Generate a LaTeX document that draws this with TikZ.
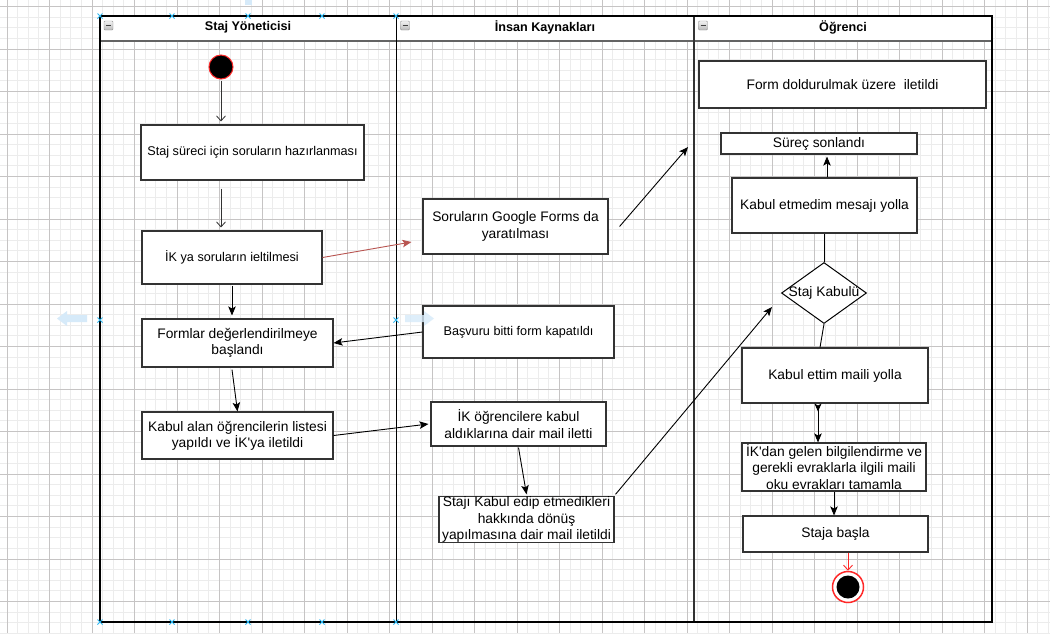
\documentclass[tikz,border=0pt]{standalone}
\usepackage{fontspec}
\setmainfont{Liberation Sans}[Ligatures=TeXOff]
\usetikzlibrary{arrows.meta,calc,shapes.geometric}
\definecolor{minorg}{RGB}{236,236,236}
\definecolor{majorg}{RGB}{198,196,196}
\definecolor{boxc}{RGB}{51,51,51}
\definecolor{redl}{RGB}{184,84,80}
\definecolor{endred}{RGB}{255,40,40}
\definecolor{hintc}{RGB}{214,234,249}
\definecolor{handlec}{RGB}{41,182,242}
\definecolor{headline}{RGB}{100,100,100}
\newcommand{\fs}{\fontsize{13.8}{16.2}\selectfont}
\newcommand{\fss}{\fontsize{12.65}{15}\selectfont}
\begin{document}
\begin{tikzpicture}[x=1pt,y=-1pt,
  box/.style={draw=boxc, line width=1.1pt, fill=white, align=center, font=\fs, inner sep=0pt},
  smallbox/.style={box, font=\fss},
  lanetitle/.style={font=\fontsize{12.6}{15}\selectfont\bfseries, inner sep=0pt},
  minusicon/.style={draw=gray!85, top color=gray!10, bottom color=gray!55, minimum size=9pt, inner sep=0pt, rounded corners=1pt,
    path picture={\draw[black!75, line width=1pt] ($(path picture bounding box.west)+(2,0)$) -- ($(path picture bounding box.east)+(-2,0)$);}},
  openarr/.style={draw=black!80, line width=0.8pt, -{Straight Barb[length=5pt,width=9pt]}},
  arr/.style={draw=black, line width=0.9pt, -{Stealth[length=9pt,width=7.5pt,inset=2pt]}},
  redarr/.style={draw=redl, line width=0.9pt, -{Stealth[length=9pt,width=7.5pt,inset=2pt]}},
  redopen/.style={draw=endred, line width=0.9pt, -{Straight Barb[length=5pt,width=9pt]}},
  plainline/.style={draw=black, line width=0.9pt},
  handle/.style={draw=handlec, line width=1pt},
  hint/.style={fill=hintc}
]
\useasboundingbox (0,0) rectangle (1050,633);
\fill[white] (0,0) rectangle (1050,633);
% grid
\begin{scope}
\clip (0,0) rectangle (1050,633);
\foreach \k in {-1,...,98} \draw[minorg, line width=1pt] ({7+\k*10.625},0) -- ({7+\k*10.625},633);
\foreach \k in {-1,...,59} \draw[minorg, line width=1pt] (0,{6.5+\k*10.625}) -- (1050,{6.5+\k*10.625});
\foreach \k in {0,...,24} \draw[majorg, line width=1pt] ({7+\k*42.5},0) -- ({7+\k*42.5},633);
\foreach \k in {0,...,14} \draw[majorg, line width=1pt] (0,{6.5+\k*42.5}) -- (1050,{6.5+\k*42.5});
\end{scope}

% pool and lanes
\fill[white] (100,16) rectangle (992,40.5);
\draw[headline, line width=2pt] (100,40.5) -- (992,40.5);
\draw[black, line width=1pt] (396,16) -- (396,622);
\draw[black!80, line width=2pt] (694,16) -- (694,622);
\draw[black, line width=1.2pt] (100,16) rectangle (992,622);
\node[lanetitle] (t1) at (248,27.5) {Staj Yöneticisi};
\node[lanetitle] (t2) at (545,27.5) {İnsan Kaynakları};
\node[lanetitle] (t3) at (843,27.5) {Öğrenci};
\node[minusicon] (m1) at (108.5,25.5) {};
\node[minusicon] (m2) at (405,25.5) {};
\node[minusicon] (m3) at (703,25.5) {};

% nodes
\node[circle, fill=black, draw=endred, line width=1pt, minimum size=24pt, inner sep=0pt] (start) at (221,67) {};
\node[smallbox, minimum width=223pt, minimum height=55pt] (b1) at (252.5,152.5) {Staj süreci için soruların hazırlanması};
\node[smallbox, minimum width=180pt, minimum height=53pt] (b2) at (232,257.5) {İK ya soruların ieltilmesi};
\node[box, minimum width=185pt, minimum height=55pt] (b3) at (515.5,226.5) {Soruların Google Forms da\\yaratılması};
\node[box, minimum width=191pt, minimum height=48pt] (b4) at (237.5,343) {Formlar değerlendirilmeye\\başlandı};
\node[smallbox, minimum width=191pt, minimum height=52pt] (b5) at (518.5,332) {Başvuru bitti form kapatıldı};
\node[box, minimum width=191pt, minimum height=47pt] (b6) at (237.5,435.5) {Kabul alan öğrencilerin listesi\\yapıldı ve İK'ya iletildi};
\node[box, minimum width=175pt, minimum height=44pt] (b7) at (518.5,424) {İK öğrencilere kabul\\aldıklarına dair mail iletti};
\node[box, minimum width=175pt, minimum height=45pt] (b8) at (526.5,519.5) {Stajı Kabul edip etmedikleri\\hakkında dönüş\\yapılmasına dair mail iletildi};
\node[box, minimum width=287pt, minimum height=47pt] (b9) at (842.5,84.5) {Form doldurulmak üzere\ \ iletildi};
\node[box, minimum width=196pt, minimum height=21pt] (b10) at (819,143.5) {Süreç sonlandı};
\node[box, minimum width=185pt, minimum height=55pt] (b11) at (824.5,205.5) {Kabul etmedim mesajı yolla};
\node[diamond, draw=black, line width=1pt, fill=white, aspect=1.39, minimum width=85pt, minimum height=61pt, inner sep=0pt, font=\fs] (dia) at (824,293) {};
\node[font=\fs, inner sep=0pt] (dial) at (dia) {Staj Kabulü};
\node[box, minimum width=186pt, minimum height=55pt] (b12) at (835,375.5) {Kabul ettim maili yolla};
\node[box, minimum width=184pt, minimum height=48pt] (b13) at (834,467) {İK'dan gelen bilgilendirme ve\\gerekli evraklarla ilgili maili\\oku evrakları tamamla};
\node[box, minimum width=185pt, minimum height=36pt] (b14) at (835.5,534) {Staja başla};
\node[circle, draw=endred, line width=1.5pt, fill=white, minimum size=31pt, inner sep=0pt] (end) at (848,587) {};
\node[circle, fill=black, minimum size=23pt, inner sep=0pt] (endin) at (end) {};
\coordinate (c1) at (688,147);

% connectors
\draw[openarr] ($(start.south)+(0,1)$) -- ($(start |- b1.north)+(0,-3)$);
\draw[openarr] ($(start |- b1.south)+(0,8)$) -- ($(start |- b2.north)+(0,-3)$);
\draw[redarr] (b2.east) -- ($(b3.west)+(-11,15.5)$);
\draw[arr] ($(b3.east)+(11,0)$) -- (c1);
\draw[arr] ($(b2.south)+(0,1)$) -- ($(b2.south |- b4.north)+(0,-3)$);
\draw[arr] (b5.west) -- (b4.east);
\draw[arr] ($(b4.south)+(-5.5,2)$) -- (b6.north);
\draw[arr] (b6.east) -- ($(b7.west)+(-2,0)$);
\draw[arr] ($(b7.south)+(0,1)$) -- ($(b8.north)+(0,-2)$);
\draw[arr] ($(b8.north east)+(1,-2)$) -- ($(dia.west)+(-9,14)$);
\draw[arr] ($(b11.north)+(2.5,0)$) -- ($(b10.south)+(8,2)$);
\draw[plainline] (dia.north) -- (dia.north |- b11.south);
\draw[plainline] (dia.south) -- ($(b12.north)+(-15,0)$);
\draw[draw=black, line width=0.9pt, {Stealth[reversed,length=8pt,width=7pt,inset=2pt]}-{Stealth[length=9pt,width=7.5pt,inset=2pt]}] ($(b12.south)+(-17,0)$) -- ($(b13.north)+(-16,0)$);
\draw[arr] (b13.south) -- (b13.south |- b14.north);
\draw[redopen] (b14.south -| end) -- (end.north);

% editor overlays
\fill[hint] (57,318.5) -- (67,311) -- (67,315) -- (87,315) -- (87,322) -- (67,322) -- (67,326) -- cycle;
\fill[hint, opacity=0.8] (434,318.5) -- (424,311) -- (424,315) -- (405,315) -- (405,322) -- (424,322) -- (424,326) -- cycle;
\fill[hint] (244.5,0) rectangle (251.5,5);
\foreach \x/\y in {100/16,172/16,248/16,322/16,396/16,100/320,396/320,100/622,172/622,248/622,322/622,396/622}
  \draw[handle] (\x-2.5,\y-2.5) -- (\x+2.5,\y+2.5) (\x-2.5,\y+2.5) -- (\x+2.5,\y-2.5);
\end{tikzpicture}
\end{document}
